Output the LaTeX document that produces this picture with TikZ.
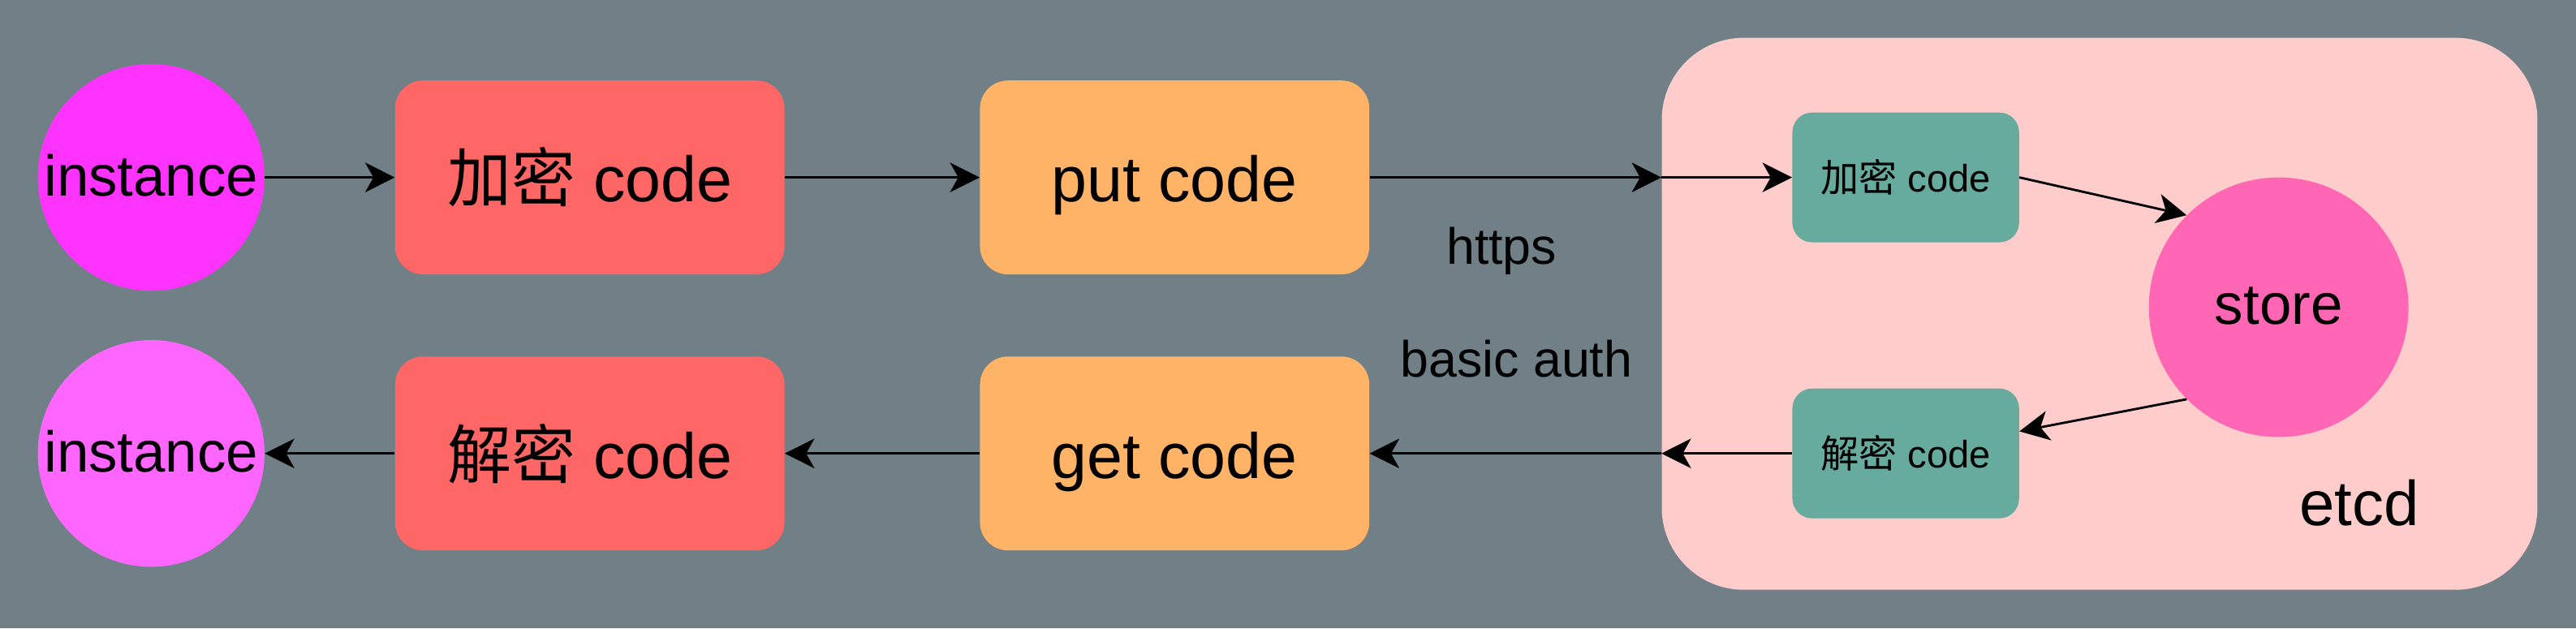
\documentclass[tikz,border=0pt]{standalone}
\usepackage{fontspec}
\setmainfont{Liberation Sans}
\newfontfamily\cjk{Noto Sans CJK SC}
\usetikzlibrary{arrows.meta}
\definecolor{bgcol}{RGB}{112,128,134}
\definecolor{instA}{HTML}{FF33FF}
\definecolor{instB}{HTML}{FF66FF}
\definecolor{codered}{HTML}{FF6666}
\definecolor{codeorange}{HTML}{FFB366}
\definecolor{etcdpink}{HTML}{FFCCCC}
\definecolor{etcdgreen}{HTML}{67AB9F}
\definecolor{storepink}{HTML}{FF66B3}

\begin{document}
\begin{tikzpicture}[x=1pt,y=-1pt,
  inst/.style={circle,minimum size=138pt,inner sep=0pt,font=\fontsize{35}{42}\selectfont,text height=27pt,text depth=4.2pt},
  bigbox/.style={rectangle,rounded corners=17pt,minimum width=237pt,minimum height=118pt,inner sep=0pt,font=\fontsize{39}{47}\selectfont,text height=35pt,text depth=5pt},
  smallbox/.style={rectangle,rounded corners=12pt,fill=etcdgreen,minimum width=138pt,minimum height=79pt,inner sep=0pt,font=\fontsize{23.3}{28}\selectfont,text height=21pt,text depth=3pt},
  lbl/.style={anchor=base,font=\fontsize{31}{37}\selectfont},
  flow/.style={-{Stealth[length=18pt,width=18pt,inset=5pt]},line width=1.4pt}]

% background
\fill[bgcol] (0,0) rectangle (1568,382.4);
\useasboundingbox (0,0) rectangle (1568,382.4);

%instances
\node[inst,fill=instA] (inst1) at (92,108) {instance};
\node[inst,fill=instB] (inst2) at (92,276) {instance};

%encode / decode
\node[bigbox,fill=codered] (enc) at (359,108) {{\cjk 加密} code};
\node[bigbox,fill=codered] (dec) at (359,276) {{\cjk 解密} code};

%put / get
\node[bigbox,fill=codeorange] (put) at (715,108) {put code};
\node[bigbox,fill=codeorange] (get) at (715,276) {get code};

%etcd
\node[rectangle,rounded corners=50pt,fill=etcdpink,minimum width=533pt,minimum height=336pt] (etcd) at (1278,191) {};
\node[smallbox] (senc) at (1160,108) {{\cjk 加密} code};
\node[smallbox] (sdec) at (1160,276) {{\cjk 解密} code};
\node[circle,fill=storepink,minimum size=158pt,inner sep=0pt,font=\fontsize{35}{42}\selectfont,text height=25pt,text depth=4.2pt] (store) at (1387,187) {store};

\coordinate (putin) at (put.east -| etcd.west);
\coordinate (getout) at (get.east -| etcd.west);

%labels
\node[lbl] (https) at (914,160.6) {https};
\node[lbl] (auth) at (923,229.3) {basic auth};
\node[lbl,font=\fontsize{38.5}{46}\selectfont] (etcdname) at (1436,320) {etcd};

%arrows
\draw[flow] (inst1) -- (enc);
\draw[flow] (enc) -- (put);
\draw[flow] (put.east) -- (putin);
\draw[flow] (putin) -- (senc.west);
\draw[flow] (senc.east) -- (store.north west);
\draw[flow] (store.south west) -- (sdec.11);
\draw[flow] (sdec.west) -- (getout);
\draw[flow] (getout) -- (get.east);
\draw[flow] (get) -- (dec);
\draw[flow] (dec) -- (inst2);

\end{tikzpicture}
\end{document}
